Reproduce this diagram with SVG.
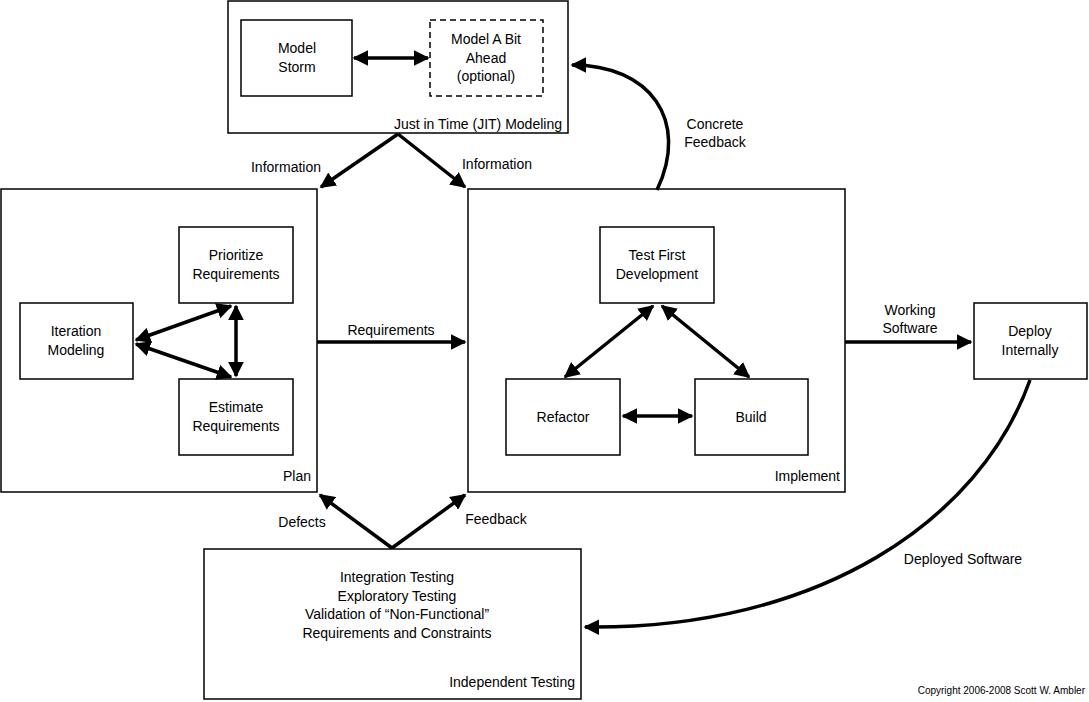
<svg xmlns="http://www.w3.org/2000/svg" width="1089" height="702" viewBox="0 0 1089 702">
<style>
rect{fill:#fff;stroke:#000;stroke-width:1.5}
.d{stroke-dasharray:6,4}
text{font-family:"Liberation Sans",Arial,sans-serif;font-size:14px;fill:#000}
.c{text-anchor:middle}
.e{text-anchor:end}
.a{fill:none;stroke:#000;stroke-width:3.5}
</style>
<defs>
<marker id="h" viewBox="0 0 10 10" refX="9" refY="5" markerWidth="4.5" markerHeight="4.5" orient="auto-start-reverse" markerUnits="strokeWidth"><path d="M0,0L10,5L0,10z" fill="#000"/></marker>
</defs>
<g id="jit"><rect x="228" y="1" width="340" height="132"/><text class="e" x="562" y="129">Just in Time (JIT) Modeling</text></g>
<g id="storm"><rect x="241" y="20" width="111" height="76"/><text class="c" x="297" y="53">Model</text><text class="c" x="297" y="72">Storm</text></g>
<g id="ahead"><rect class="d" x="430" y="20" width="113" height="76"/><text class="c" x="486" y="44">Model A Bit</text><text class="c" x="486" y="63">Ahead</text><text class="c" x="486" y="81">(optional)</text></g>
<g id="plan"><rect x="1" y="189" width="316" height="303"/><text class="e" x="311" y="481">Plan</text></g>
<g id="iter"><rect x="20" y="303" width="113" height="76"/><text class="c" x="76" y="336">Iteration</text><text class="c" x="76" y="355">Modeling</text></g>
<g id="prio"><rect x="179" y="227" width="114" height="76"/><text class="c" x="236" y="260">Prioritize</text><text class="c" x="236" y="279">Requirements</text></g>
<g id="est"><rect x="179" y="379" width="114" height="76"/><text class="c" x="236" y="412">Estimate</text><text class="c" x="236" y="431">Requirements</text></g>
<g id="impl"><rect x="468" y="189" width="377" height="303"/><text class="e" x="840" y="481">Implement</text></g>
<g id="tfd"><rect x="600" y="227" width="114" height="76"/><text class="c" x="657" y="260">Test First</text><text class="c" x="657" y="279">Development</text></g>
<g id="refactor"><rect x="506" y="379" width="114" height="76"/><text class="c" x="563" y="422">Refactor</text></g>
<g id="build"><rect x="695" y="379" width="113" height="76"/><text class="c" x="751" y="422">Build</text></g>
<g id="deploy"><rect x="974" y="303" width="113" height="76"/><text class="c" x="1030" y="336">Deploy</text><text class="c" x="1030" y="355">Internally</text></g>
<g id="indep"><rect x="204" y="549" width="377" height="150"/><text class="c" x="397" y="582">Integration Testing</text><text class="c" x="397" y="601">Exploratory Testing</text><text class="c" x="397" y="619">Validation of “Non-Functional”</text><text class="c" x="397" y="638">Requirements and Constraints</text><text class="e" x="575" y="687">Independent Testing</text></g>
<text class="e" x="1085" y="694" style="font-size:10px">Copyright 2006-2008 Scott W. Ambler</text>
<g id="connectors">
<line class="a" x1="354" y1="58" x2="428" y2="58" marker-start="url(#h)" marker-end="url(#h)"/>
<line class="a" x1="398" y1="134" x2="321" y2="187" marker-end="url(#h)"/>
<line class="a" x1="398" y1="134" x2="465" y2="187" marker-end="url(#h)"/>
<line class="a" x1="317" y1="342" x2="465" y2="342" marker-end="url(#h)"/>
<line class="a" x1="845" y1="342" x2="971" y2="342" marker-end="url(#h)"/>
<line class="a" x1="392" y1="548" x2="320" y2="495" marker-end="url(#h)"/>
<line class="a" x1="392" y1="548" x2="465" y2="495" marker-end="url(#h)"/>
<line class="a" x1="136" y1="340" x2="231" y2="306" marker-start="url(#h)" marker-end="url(#h)"/>
<line class="a" x1="136" y1="344" x2="231" y2="377" marker-start="url(#h)" marker-end="url(#h)"/>
<line class="a" x1="236" y1="306" x2="236" y2="376" marker-start="url(#h)" marker-end="url(#h)"/>
<line class="a" x1="653" y1="306" x2="565" y2="377" marker-start="url(#h)" marker-end="url(#h)"/>
<line class="a" x1="662" y1="306" x2="749" y2="377" marker-start="url(#h)" marker-end="url(#h)"/>
<line class="a" x1="623" y1="416" x2="692" y2="416" marker-start="url(#h)" marker-end="url(#h)"/>
<path class="a" d="M657,190 C690,120 650,65 572,65" marker-end="url(#h)"/>
<path class="a" d="M1030,380 C980,520 820,630 585,627" marker-end="url(#h)"/>
</g>
<text class="c" x="286" y="172">Information</text>
<text class="c" x="497" y="169">Information</text>
<text class="c" x="715" y="129">Concrete</text>
<text class="c" x="715" y="147">Feedback</text>
<text class="c" x="391" y="335">Requirements</text>
<text class="c" x="910" y="315">Working</text>
<text class="c" x="910" y="333">Software</text>
<text class="c" x="302" y="527">Defects</text>
<text class="c" x="496" y="524">Feedback</text>
<text class="c" x="963" y="564">Deployed Software</text>
</svg>
